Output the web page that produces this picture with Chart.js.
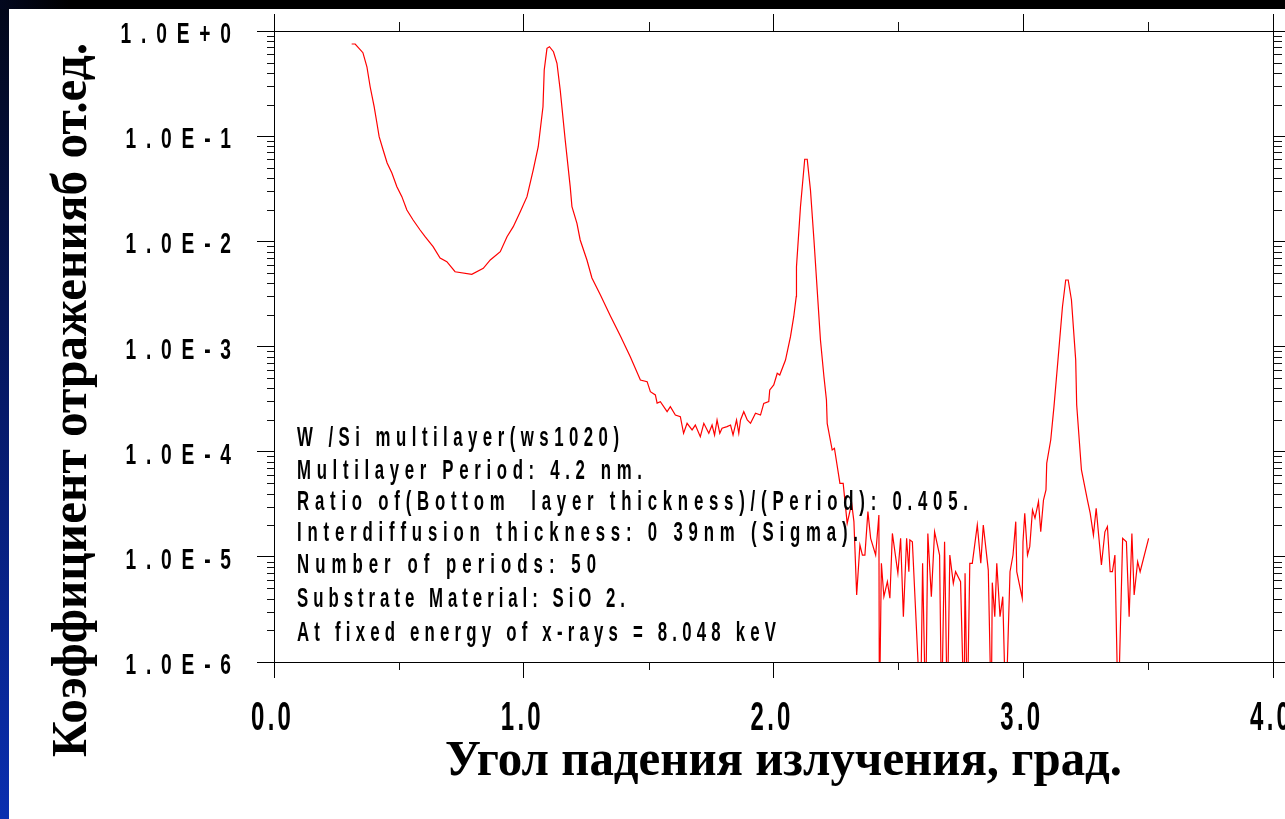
<!DOCTYPE html>
<html><head><meta charset="utf-8">
<script src="https://cdn.jsdelivr.net/npm/chart.js@4.4.0/dist/chart.umd.min.js"></script>
<style>html,body{margin:0;padding:0;background:#fff;overflow:hidden}canvas{display:block}</style>
</head><body>
<canvas id="c" width="1285" height="819"></canvas>
<script>
// ---- data ----
const angle = [
0.311,0.325,0.356,0.372,0.385,0.401,0.412,0.421,0.437,0.453,
0.472,0.492,0.512,0.532,0.557,0.585,0.605,0.637,0.665,0.692,
0.725,0.792,0.838,0.866,0.906,0.933,0.958,0.986,1.013,1.038,
1.058,1.077,1.082,1.093,1.103,1.119,1.133,1.146,1.166,1.186,
1.193,1.213,1.226,1.253,1.273,1.307,1.347,1.387,1.427,1.467,
1.494,1.507,1.527,1.534,1.547,1.574,1.587,1.607,1.627,1.640,
1.654,1.674,1.687,1.707,1.721,1.741,1.754,1.764,1.774,1.785,
1.794,1.814,1.828,1.838,1.852,1.861,1.868,1.881,1.895,1.908,
1.928,1.948,1.961,1.981,1.985,2.001,2.015,2.025,2.048,2.068,
2.081,2.091,2.092,2.108,2.125,2.135,2.148,2.162,2.188,2.202,
2.212,2.215,2.235,2.244,2.266,2.279,2.295,2.313,2.322,2.333,
2.346,2.356,2.366,2.378,2.389,2.409,2.422,2.424,2.432,2.442,
2.456,2.466,2.476,2.498,2.509,2.520,2.533,2.542,2.546,2.556,
2.589,2.597,2.609,2.618,2.632,2.645,2.665,2.673,2.685,2.696,
2.706,2.720,2.729,2.749,2.763,2.767,2.776,2.786,2.796,2.816,
2.830,2.840,2.860,2.872,2.876,2.886,2.894,2.907,2.918,2.930,
2.947,2.959,2.970,2.974,2.996,2.999,3.006,3.017,3.026,3.037,
3.047,3.061,3.070,3.081,3.091,3.094,3.110,3.123,3.139,3.157,
3.170,3.180,3.193,3.210,3.214,3.233,3.257,3.268,3.281,3.292,
3.313,3.327,3.337,3.348,3.357,3.367,3.380,3.398,3.413,3.424,
3.435,3.444,3.458,3.468,3.502
];
const reflectivity = [
0.752,0.752,0.622,0.457,0.295,0.191,0.1334,0.0989,0.0739,0.0556,
0.0447,0.0331,0.0266,0.01986,0.01595,0.01282,0.01107,0.00889,0.00694,0.0064,
0.00514,0.00486,0.00554,0.00665,0.00797,0.01107,0.01378,0.01913,0.0266,0.0477,
0.0794,0.1906,0.4258,0.6846,0.709,0.6355,0.4931,0.2748,0.0919,0.0331,
0.02135,0.01484,0.0103,0.00665,0.00448,0.00309,0.00195,0.001259,0.000795,0.00048,
0.000463,0.000372,0.000346,0.00029,0.000299,0.00024,0.000268,0.000223,0.000215,0.0001496,
0.000186,0.000161,0.000179,0.000139,0.000186,0.0001496,0.000179,0.000144,0.0002,0.0001496,
0.000167,0.000173,0.000179,0.000144,0.0002,0.0001496,0.0002,0.00024,0.0002,0.000186,
0.000232,0.000223,0.000288,0.000299,0.000386,0.000431,0.000556,0.000536,0.000744,0.00124,
0.00192,0.00298,0.00574,0.02135,0.0603,0.0603,0.0308,0.0103,0.001153,0.000516,
0.00031,0.000186,0.0001037,0.0001077,5.0e-5,5.0e-5,2.08e-5,3.23e-5,2.16e-5,4.34e-6,
1.30e-5,1.04e-5,1.04e-5,2.69e-5,1.50e-5,1.04e-5,2.50e-5,3e-7,8.68e-6,4.18e-6,
5.80e-6,4.04e-6,1.67e-5,6.98e-6,1.50e-5,2.70e-6,1.50e-5,7.22e-6,1.45e-5,1.39e-5,
3e-7,8.68e-6,3e-7,1.67e-5,4.18e-6,1.73e-5,1.04e-5,3e-7,1.39e-5,3e-7,
1.04e-5,5.60e-6,7.22e-6,5.80e-6,3e-7,6.98e-6,3e-7,8.68e-6,8.68e-6,2.01e-5,
8.68e-6,2.01e-5,7.48e-6,3e-7,5.68e-6,2.70e-6,8.68e-6,2.70e-6,4.18e-6,3e-7,
7.22e-6,1.04e-5,2.16e-5,7.22e-6,4.04e-6,1.39e-5,2.60e-5,1.04e-5,1.25e-5,2.79e-5,
2.33e-5,3.35e-5,1.73e-5,3.47e-5,4.32e-5,7.76e-5,0.000129,0.000268,0.000744,0.00239,
0.00429,0.00429,0.00277,0.000744,0.000278,6.70e-5,3.47e-5,2.60e-5,1.61e-5,2.89e-5,
8.37e-6,1.73e-5,1.94e-5,7.22e-6,7.22e-6,1.04e-5,3e-7,1.50e-5,1.39e-5,2.70e-6,
1.67e-5,4.34e-6,8.99e-6,7.22e-6,1.50e-5
];
const yTickValues = [1, 1e-1, 1e-2, 1e-3, 1e-4, 1e-5, 1e-6];
const yTickLabels = ['1.0E+0','1.0E-1','1.0E-2','1.0E-3','1.0E-4','1.0E-5','1.0E-6'];
const xTickValues = [0, 1, 2, 3, 4];
const xTickLabels = ['0.0','1.0','2.0','3.0','4.0'];
const xMinorTicks = [0.5, 1.5, 2.5, 3.5];
const yMinorMultipliers = [2,3,4,5,6,7,8,9];
const xTitle = 'Угол падения излучения, град.';
const yTitle = 'Коэффициент отраженияб от.ед.';
const notes = [
  'W /Si multilayer(ws1020)',
  'Multilayer Period: 4.2 nm.',
  'Ratio of(Bottom  layer thickness)/(Period): 0.405.',
  'Interdiffusion thickness: 0 39nm (Sigma).',
  'Number of periods: 50',
  'Substrate Material: SiO 2.',
  'At fixed energy of x-rays = 8.048 keV'
];

// ---- drawing helpers ----
const SANS = '"Liberation Sans", Arial, sans-serif';
const SERIF = '"Liberation Serif", "Times New Roman", serif';

function spacedText(ctx, text, x, y, align, size, sx, gap, targetW) {
  ctx.save();
  ctx.font = 'bold ' + size + 'px ' + SANS;
  ctx.letterSpacing = '0px';
  const w = ctx.measureText(text).width;
  const n = text.length;
  if (targetW !== undefined && n > 1) gap = (targetW - w * sx) / (n - 1);
  const total = w * sx + gap * (n - 1);
  const left = align === 'right' ? x - total : (align === 'center' ? x - total / 2 : x);
  ctx.translate(left, y);
  ctx.scale(sx, 1);
  ctx.letterSpacing = (gap / sx) + 'px';
  ctx.textAlign = 'left';
  ctx.textBaseline = 'alphabetic';
  ctx.fillStyle = '#000';
  ctx.fillText(text, 0, 0);
  ctx.restore();
}

function fitSerif(ctx, text, x, y, size, targetW, rotate) {
  ctx.save();
  ctx.font = 'bold ' + size + 'px ' + SERIF;
  const w = ctx.measureText(text).width;
  ctx.translate(x, y);
  if (rotate) ctx.rotate(-Math.PI / 2);
  ctx.scale(targetW / w, 1);
  ctx.textAlign = 'left';
  ctx.textBaseline = 'alphabetic';
  ctx.fillStyle = '#000';
  ctx.fillText(text, 0, 0);
  ctx.restore();
}

const pagePlugin = {
  id: 'page',
  beforeDraw(chart) {
    const ctx = chart.ctx;
    ctx.save();
    ctx.fillStyle = '#fff';
    ctx.fillRect(0, 0, chart.width, chart.height);
    const g = ctx.createLinearGradient(0, 0, 0, chart.height);
    g.addColorStop(0, '#020718');
    g.addColorStop(0.5, '#061a6a');
    g.addColorStop(1, '#0a2fb0');
    ctx.fillStyle = g;
    ctx.fillRect(0, 0, 9, chart.height);
    ctx.fillStyle = '#000';
    ctx.fillRect(0, 0, chart.width, 9);
    const g2 = ctx.createLinearGradient(0, 0, 70, 0);
    g2.addColorStop(0, '#03081f');
    g2.addColorStop(1, '#000');
    ctx.fillStyle = g2;
    ctx.fillRect(0, 0, 70, 9);
    ctx.restore();
  },
  afterDraw(chart) {
    const ctx = chart.ctx, a = chart.chartArea;
    const ys = chart.scales.y, xs = chart.scales.x;
    // minor tick marks
    ctx.save();
    ctx.strokeStyle = '#111';
    ctx.lineWidth = 1;
    ctx.beginPath();
    for (let d = -6; d < 0; d++) {
      for (const m of yMinorMultipliers) {
        const py = Math.round(ys.getPixelForValue(m * Math.pow(10, d))) + 0.5;
        ctx.moveTo(a.left - 7, py); ctx.lineTo(a.left, py);
        ctx.moveTo(a.right, py); ctx.lineTo(a.right + 9, py);
      }
    }
    for (const v of xMinorTicks) {
      const px = Math.round(xs.getPixelForValue(v)) + 0.5;
      ctx.moveTo(px, a.bottom); ctx.lineTo(px, a.bottom + 8);
      ctx.moveTo(px, a.top - 9); ctx.lineTo(px, a.top);
    }
    ctx.stroke();
    ctx.restore();
    // axis titles
    fitSerif(ctx, xTitle, 445, 775, 50, 677, false);
    fitSerif(ctx, yTitle, 86, 757, 50, 714, true);
    // annotation block
    const baselines = [446, 479, 510, 541, 573, 607, 641];
    const ends = [619, 642, 968, 858, 596, 625, 776];
    notes.forEach((t, i) => spacedText(ctx, t, 297, baselines[i], 'left', 28, 0.6, 0, ends[i] - 297));
  }
};

function yLabels() {
  const ctx = this.ctx;
  this.ticks.forEach(t => {
    const p = this.getPixelForValue(t.value);
    spacedText(ctx, String(t.label), 231, p + 12, 'right', 30, 0.64, 9.8);
  });
}
function xLabels() {
  const ctx = this.ctx;
  this.ticks.forEach(t => {
    const p = this.getPixelForValue(t.value);
    spacedText(ctx, String(t.label), p - 3, 730, 'center', 40, 0.6, 3.2);
  });
}

const points = angle.map((a, i) => ({ x: a, y: reflectivity[i] }));

new Chart(document.getElementById('c'), {
  type: 'line',
  data: { datasets: [{
    data: points,
    borderColor: '#ff0000',
    borderWidth: 1.2,
    pointRadius: 0,
    tension: 0,
    fill: false
  }]},
  options: {
    responsive: false,
    animation: false,
    devicePixelRatio: 1,
    layout: { padding: 0 },
    plugins: { legend: { display: false }, tooltip: { enabled: false }, title: { display: false } },
    scales: {
      x: {
        type: 'linear', position: 'bottom', min: 0, max: 4,
        afterBuildTicks: s => { s.ticks = xTickValues.map(v => ({ value: v })); },
        ticks: { autoSkip: false, maxRotation: 0, callback: v => xTickLabels[Math.round(v)] },
        grid: { drawOnChartArea: false, drawTicks: true, tickLength: 16, color: '#000', lineWidth: 1 },
        border: { display: true, color: '#000', width: 1 },
        afterFit: s => { s.height = 157; s.drawLabels = xLabels; }
      },
      x2: {
        type: 'linear', position: 'top', min: 0, max: 4,
        afterBuildTicks: s => { s.ticks = xTickValues.map(v => ({ value: v })); },
        ticks: { display: false },
        grid: { drawOnChartArea: false, drawTicks: true, tickLength: 17, color: '#000', lineWidth: 1 },
        border: { display: true, color: '#000', width: 1 },
        afterFit: s => { s.height = 31; }
      },
      y: {
        type: 'logarithmic', position: 'left', min: 1e-6, max: 1,
        afterBuildTicks: s => { s.ticks = yTickValues.map(v => ({ value: v })); },
        ticks: { autoSkip: false, callback: v => yTickLabels[Math.round(-Math.log10(v))] },
        grid: { drawOnChartArea: false, drawTicks: true, tickLength: 17, color: '#000', lineWidth: 1 },
        border: { display: true, color: '#000', width: 1 },
        afterFit: s => { s.width = 274; s.drawLabels = yLabels; }
      },
      y2: {
        type: 'logarithmic', position: 'right', min: 1e-6, max: 1,
        afterBuildTicks: s => { s.ticks = yTickValues.map(v => ({ value: v })); },
        ticks: { display: false },
        grid: { drawOnChartArea: false, drawTicks: true, tickLength: 12, color: '#000', lineWidth: 1 },
        border: { display: true, color: '#000', width: 1 },
        afterFit: s => { s.width = 12; }
      }
    }
  },
  plugins: [pagePlugin]
});
</script>
</body></html>
